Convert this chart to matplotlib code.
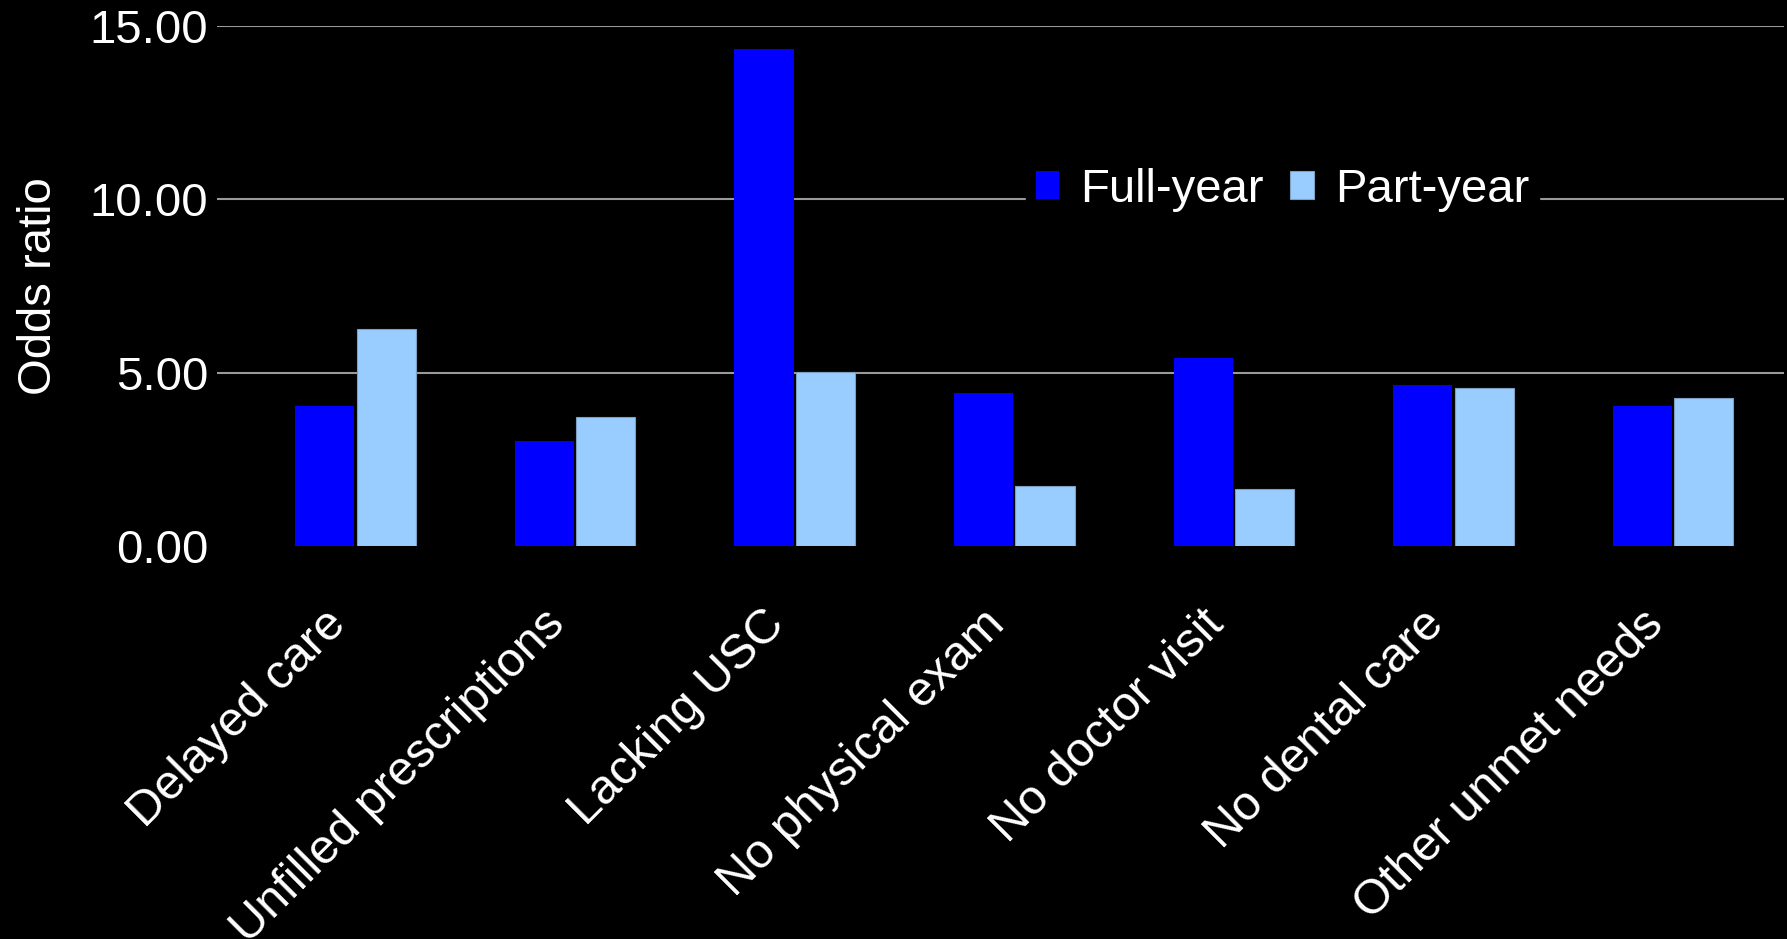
import numpy as np
import matplotlib
matplotlib.use("Agg")
import matplotlib.pyplot as plt
from matplotlib.transforms import ScaledTranslation

plt.rcParams['font.family'] = ['Liberation Sans', 'DejaVu Sans']

categories = ['Delayed care', 'Unfilled prescriptions', 'Lacking USC',
              'No physical exam', 'No doctor visit', 'No dental care',
              'Other unmet needs']
full_year = [4.03, 3.03, 14.35, 4.41, 5.41, 4.64, 4.03]
part_year = [6.26, 3.72, 5.03, 1.73, 1.65, 4.57, 4.26]
yticks = [0, 5, 10, 15]
ytick_labels = ['0.00', '5.00', '10.00', '15.00']

fig = plt.figure(figsize=(17.87, 9.39), dpi=100, facecolor='black')
ax = fig.add_axes([216.5 / 1787, 1 - 546 / 939, 1567.5 / 1787, 520 / 939])
ax.set_facecolor('black')

x = np.arange(len(categories))
w = 0.27
ax.bar(x - 0.14, full_year, width=w, color='#0000FF', label='Full-year', zorder=3)
ax.bar(x + 0.14, part_year, width=w, color='#99CCFF', edgecolor='#7f9fc0',
       linewidth=0.8, label='Part-year', zorder=3)

ax.set_xlim(-0.633, 6.505)
ax.set_ylim(0, 15)
ax.set_yticks(yticks, labels=ytick_labels)
ax.yaxis.grid(True, color='#999999', linewidth=1.5, zorder=0)
ax.set_axisbelow(True)
# no baseline gridline
ax.get_ygridlines()[0].set_visible(False)

for s in ax.spines.values():
    s.set_visible(False)
ax.tick_params(axis='both', length=0, colors='white')
ax.tick_params(axis='y', labelsize=34, pad=6)

ax.set_xticks(x)
ax.set_xticklabels(categories, rotation=45, ha='right', va='center',
                   rotation_mode='anchor', fontsize=35, color='white')
ax.tick_params(axis='x', pad=50)
shift = ScaledTranslation(-0.17, -0.02, fig.dpi_scale_trans)
for lab in ax.get_xticklabels():
    lab.set_transform(lab.get_transform() + shift)

ax.set_ylabel('Odds ratio', fontsize=34, color='white', va='center')
ax.yaxis.set_label_coords(-0.113, 0.5)

leg = ax.legend(loc='center', bbox_to_anchor=(0.68, 0.685), ncol=2,
                fontsize=34, frameon=True, facecolor='black', edgecolor='black',
                framealpha=1, handlelength=0.5, handleheight=0.55,
                handletextpad=0.45, columnspacing=0.55, borderpad=0.2,
                fancybox=False)
for t in leg.get_texts():
    t.set_color('white')
leg.set_zorder(5)

fig.savefig('out.png', dpi=100, facecolor='black')
